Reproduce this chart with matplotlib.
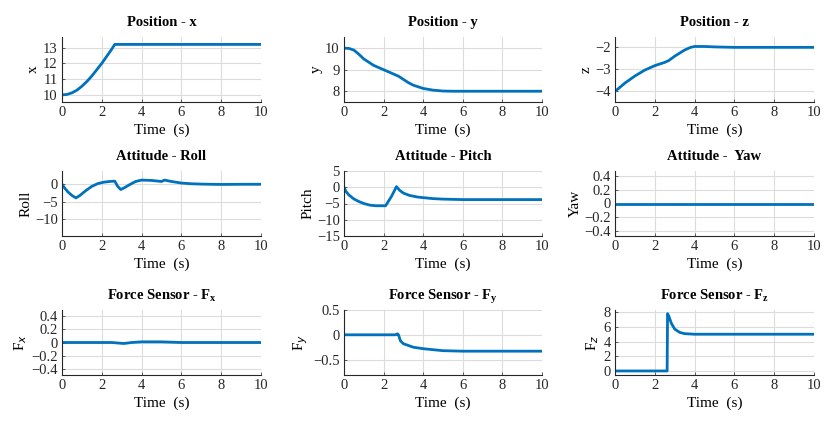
import numpy as np
import matplotlib
matplotlib.use("Agg")
import matplotlib.pyplot as plt
from matplotlib.ticker import FuncFormatter

plt.rcParams['font.family'] = ['Liberation Serif', 'DejaVu Serif']
plt.rcParams['mathtext.fontset'] = 'custom'
plt.rcParams['mathtext.rm'] = 'Liberation Serif'
plt.rcParams['mathtext.bf'] = 'Liberation Serif:bold'
plt.rcParams['axes.unicode_minus'] = True

# --- data ---
t_x = [0, 0.25, 0.5, 0.75, 1.0, 1.25, 1.5, 1.75, 2.0, 2.25, 2.5, 2.65, 3, 4, 6, 8, 10]
pos_x = [10.0, 10.03, 10.13, 10.3, 10.55, 10.85, 11.2, 11.6, 12.0, 12.45, 12.9, 13.2,
         13.2, 13.2, 13.2, 13.2, 13.2]

t_y = [0, 0.25, 0.5, 0.75, 1.0, 1.5, 2.0, 2.5, 2.75, 3.0, 3.25, 3.5, 4.0, 4.5, 5.0, 5.5, 7, 10]
pos_y = [10.0, 9.99, 9.91, 9.72, 9.5, 9.2, 9.0, 8.8, 8.7, 8.55, 8.4, 8.28, 8.13, 8.05,
         8.01, 8.0, 8.0, 8.0]

t_z = [0, 0.5, 1.0, 1.5, 2.0, 2.5, 2.7, 3.0, 3.5, 3.8, 4.0, 4.5, 5.0, 6.0, 8, 10]
pos_z = [-4.0, -3.62, -3.3, -3.03, -2.83, -2.68, -2.6, -2.4, -2.12, -2.0, -1.96, -1.96,
         -1.98, -2.0, -2.0, -2.0]

t_roll = [0, 0.15, 0.3, 0.5, 0.7, 0.9, 1.2, 1.5, 1.8, 2.1, 2.4, 2.65, 2.8, 2.95, 3.1,
          3.4, 3.7, 4.0, 4.5, 5.0, 5.15, 5.5, 6.0, 6.5, 7.0, 8.0, 9.0, 10]
roll = [0, -1.2, -2.2, -3.2, -3.9, -3.2, -1.8, -0.6, 0.2, 0.6, 0.8, 0.9, -0.6, -1.5, -1.1,
        -0.1, 0.8, 1.2, 1.1, 0.8, 1.2, 0.8, 0.35, 0.15, 0.05, -0.05, 0, 0]

t_pitch = [0, 0.1, 0.25, 0.5, 0.75, 1.0, 1.3, 1.6, 2.1, 2.4, 2.65, 2.8, 3.0, 3.3, 3.7,
           4.0, 4.5, 5.0, 6.0, 7.0, 10]
pitch = [0, -1.3, -2.4, -3.6, -4.4, -5.0, -5.5, -5.7, -5.7, -2.8, 0.2, -0.9, -1.8, -2.5,
         -3.0, -3.2, -3.5, -3.65, -3.8, -3.8, -3.8]

t_yaw = [0, 10]
yaw = [0, 0]

t_fx = [0, 2.5, 2.9, 3.1, 3.5, 4.0, 5.0, 5.5, 6.0, 10]
force_x = [0, 0, -0.01, -0.015, 0, 0.01, 0.01, 0.005, 0, 0]

t_fy = [0, 2.6, 2.7, 2.75, 2.85, 3.0, 3.5, 4.0, 5.0, 6.0, 10]
force_y = [0, 0, 0.02, 0.0, -0.12, -0.18, -0.25, -0.28, -0.32, -0.33, -0.33]

t_fz = [0, 2.62, 2.64, 2.7, 2.83, 3.0, 3.25, 3.5, 4.0, 10]
force_z = [0, 0, 7.8, 7.5, 6.5, 5.7, 5.25, 5.08, 5.0, 5.0]

titles = ["Position - x", "Position - y", "Position - z",
          "Attitude - Roll", "Attitude - Pitch", "Attitude -  Yaw",
          r"Force Sensor - F$_\mathbf{x}$", r"Force Sensor - F$_\mathbf{y}$",
          r"Force Sensor - F$_\mathbf{z}$"]
ylabels = ["x", "y", "z", "Roll", "Pitch", "Yaw", "F$_x$", "F$_y$", "F$_z$"]
ylims = [(9.55, 13.67), (7.5, 10.52), (-4.48, -1.53),
         (-14.8, 3.8), (-15, 5), (-0.48, 0.48),
         (-0.49, 0.49), (-0.81, 0.5), (-0.55, 8.3)]
yticks = [[10, 11, 12, 13], [8, 9, 10], [-4, -3, -2],
          [-10, -5, 0], [-15, -10, -5, 0, 5], [-0.4, -0.2, 0, 0.2, 0.4],
          [-0.4, -0.2, 0, 0.2, 0.4], [-0.5, 0, 0.5], [0, 2, 4, 6, 8]]
series = [(t_x, pos_x), (t_y, pos_y), (t_z, pos_z),
          (t_roll, roll), (t_pitch, pitch), (t_yaw, yaw),
          (t_fx, force_x), (t_fy, force_y), (t_fz, force_z)]

W, H = 831, 421
lefts = [62, 344, 615]
widths = [199, 198, 199]
tops = [37, 171, 310]
height = 65

fmt = FuncFormatter(lambda v, p: ('%g' % v).replace('-', '\u2212'))

fig = plt.figure(figsize=(W / 100, H / 100), dpi=100)
for i in range(9):
    r, c = divmod(i, 3)
    ax = fig.add_axes([lefts[c] / W, 1 - (tops[r] + height) / H, widths[c] / W, height / H])
    t, v = series[i]
    ax.plot(t, v, color='#0072BD', lw=2.0, solid_joinstyle='round')
    ax.set_xlim(0, 10)
    ax.set_ylim(*ylims[i])
    ax.set_xticks([0, 2, 4, 6, 8, 10])
    ax.set_yticks(yticks[i])
    ax.yaxis.set_major_formatter(fmt)
    ax.grid(True, color='#dcdcdc', lw=0.8)
    ax.set_axisbelow(True)
    for s in ['top', 'right']:
        ax.spines[s].set_visible(False)
    for s in ['left', 'bottom']:
        ax.spines[s].set_color('#262626')
        ax.spines[s].set_linewidth(0.8)
    ax.tick_params(direction='in', length=2, width=0.5, labelsize=10.5,
                   colors='#262626', pad=3)
    ax.set_title(titles[i], fontsize=10.5, fontweight='bold', pad=8)
    ax.set_xlabel("Time  (s)", fontsize=11, labelpad=3)
    ax.set_ylabel(ylabels[i], fontsize=11, labelpad=2)

fig.savefig("out.png", dpi=100)
